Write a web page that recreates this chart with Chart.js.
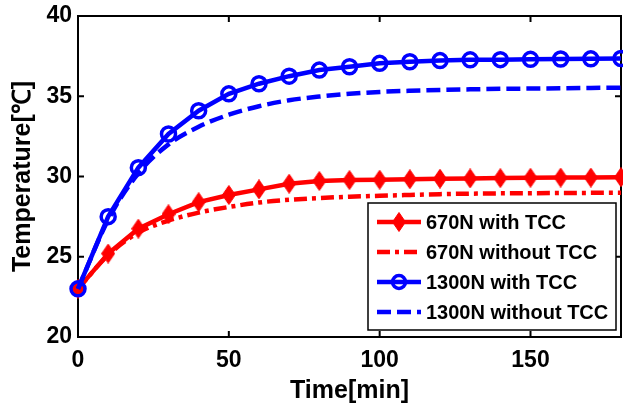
<!DOCTYPE html>
<html>
<head>
<meta charset="utf-8">
<script src="https://cdn.jsdelivr.net/npm/chart.js@4"></script>
<style>
html,body{margin:0;padding:0;background:#fff;}
#c{display:block;}
</style>
</head>
<body>
<canvas id="c" width="623" height="411"></canvas>
<script>
// ---- data ----
const timeMin = [0,10,20,30,40,50,60,70,80,90,100,110,120,130,140,150,160,170,180];
const t670With    = [23.0,25.2,26.75,27.65,28.4,28.85,29.2,29.55,29.72,29.78,29.8,29.83,29.86,29.88,29.9,29.92,29.93,29.93,29.95];
const t670Without = [23.0,25.1,26.5,27.25,27.75,28.1,28.38,28.55,28.66,28.74,28.8,28.85,28.9,28.93,28.95,28.96,28.97,28.98,28.99];
const t1300With   = [23.0,27.5,30.55,32.65,34.1,35.15,35.78,36.25,36.63,36.84,37.05,37.15,37.22,37.27,37.28,37.3,37.32,37.33,37.35];
const t1300Without= [23.0,27.3,30.2,32.0,33.1,33.85,34.38,34.75,34.98,35.15,35.27,35.34,35.39,35.43,35.46,35.48,35.5,35.52,35.53];
const seriesLabels = ['670N with TCC','670N without TCC','1300N with TCC','1300N without TCC'];
const xTicks = [0,50,100,150];
const yTicks = [20,25,30,35,40];
const xTitle = 'Time[min]';
const yTitle = 'Temperature[℃]';

const FONT = '"Liberation Sans", Arial, Helvetica, sans-serif';
const RED = '#ff0000';
const BLUE = '#0000ff';

// diamond marker image
const diamond = document.createElement('canvas');
diamond.width = 14; diamond.height = 20;
(function(){
  const g = diamond.getContext('2d');
  g.fillStyle = RED; g.strokeStyle = RED; g.lineWidth = 1;
  g.beginPath();
  g.moveTo(7,0.5); g.lineTo(13.5,10); g.lineTo(7,19.5); g.lineTo(0.5,10); g.closePath();
  g.fill(); g.stroke();
})();

function pts(ys){ return timeMin.map((t,i)=>({x:t,y:ys[i]})); }

const framePlugin = {
  id:'frame',
  beforeDatasetsDraw(chart){
    const {ctx, chartArea:a, scales:{x,y}} = chart;
    ctx.save();
    ctx.strokeStyle = '#000'; ctx.lineWidth = 2;
    ctx.strokeRect(a.left, a.top, a.right-a.left, a.bottom-a.top);
    const L = 6;
    ctx.beginPath();
    xTicks.forEach(v=>{ const px = x.getPixelForValue(v);
      ctx.moveTo(px,a.bottom); ctx.lineTo(px,a.bottom-L);
      ctx.moveTo(px,a.top); ctx.lineTo(px,a.top+L); });
    yTicks.forEach(v=>{ const py = y.getPixelForValue(v);
      ctx.moveTo(a.left,py); ctx.lineTo(a.left+L,py);
      ctx.moveTo(a.right,py); ctx.lineTo(a.right-L,py); });
    ctx.stroke();
    ctx.restore();
  },
  afterDatasetsDraw(chart){
    const ctx = chart.ctx;
    const bx=368, by=203, bw=248, bh=127;
    ctx.save();
    ctx.fillStyle='#fff'; ctx.fillRect(bx,by,bw,bh);
    ctx.strokeStyle='#000'; ctx.lineWidth=1.5; ctx.strokeRect(bx,by,bw,bh);
    const rows=[222,252,282,312];
    chart.data.datasets.forEach((ds,i)=>{
      const yy=rows[i];
      ctx.save();
      ctx.strokeStyle=ds.borderColor; ctx.lineWidth=4.5; ctx.lineCap='butt';
      ctx.setLineDash(ds.borderDash||[]);
      ctx.beginPath(); ctx.moveTo(377,yy); ctx.lineTo(421,yy); ctx.stroke();
      ctx.setLineDash([]);
      if(ds.pointRadius>0){
        if(ds.pointStyle===diamond){ ctx.drawImage(diamond,399-7,yy-10); }
        else { ctx.lineWidth=3.5; ctx.beginPath(); ctx.arc(399,yy,6.5,0,Math.PI*2); ctx.stroke(); }
      }
      ctx.restore();
      ctx.fillStyle='#000'; ctx.font='bold 20px '+FONT;
      ctx.textAlign='left'; ctx.textBaseline='middle';
      ctx.fillText(ds.label,426,yy+1);
    });
    ctx.restore();
  }
};

new Chart(document.getElementById('c'),{
  type:'line',
  data:{datasets:[
    {label:seriesLabels[0], data:pts(t670With), borderColor:RED, backgroundColor:RED, borderWidth:4.5,
     pointStyle:diamond, pointRadius:9, pointHoverRadius:9, tension:0, order:4, clip:false},
    {label:seriesLabels[1], data:pts(t670Without), borderColor:RED, backgroundColor:RED, borderWidth:4.5,
     borderDash:[13,5,4,5], pointRadius:0, cubicInterpolationMode:'monotone', order:3, clip:false},
    {label:seriesLabels[2], data:pts(t1300With), borderColor:BLUE, backgroundColor:'rgba(0,0,0,0)', borderWidth:4.5,
     pointStyle:'circle', pointRadius:7, pointBorderWidth:3.5, pointBorderColor:BLUE, pointBackgroundColor:'rgba(0,0,0,0)',
     tension:0, order:2, clip:false},
    {label:seriesLabels[3], data:pts(t1300Without), borderColor:BLUE, backgroundColor:BLUE, borderWidth:4.5,
     borderDash:[14,6], pointRadius:0, cubicInterpolationMode:'monotone', order:1, clip:false}
  ]},
  options:{
    responsive:false, animation:false, devicePixelRatio:1,
    layout:{autoPadding:false, padding:{left:0,right:2,top:16,bottom:0}},
    plugins:{legend:{display:false}, tooltip:{enabled:false}},
    scales:{
      x:{type:'linear', min:0, max:180,
         afterBuildTicks(s){ s.ticks = xTicks.map(v=>({value:v})); },
         afterFit(s){ s.height = 74; s.paddingLeft = 0; s.paddingRight = 0; },
         grid:{display:false, drawTicks:false}, border:{display:false},
         ticks:{color:'#000', font:{family:FONT, size:23, weight:'bold'}, padding:10, maxRotation:0},
         title:{display:true, text:xTitle, color:'#000', font:{family:FONT, size:25, weight:'bold'}, padding:{top:0,bottom:5}}
      },
      y:{type:'linear', min:20, max:40,
         afterBuildTicks(s){ s.ticks = yTicks.map(v=>({value:v})); },
         afterFit(s){ s.width = 78; s.paddingTop = 0; s.paddingBottom = 0; },
         grid:{display:false, drawTicks:false}, border:{display:false},
         ticks:{color:'#000', font:{family:FONT, size:23, weight:'bold'}, padding:6},
         title:{display:true, text:yTitle, color:'#000', font:{family:FONT, size:25, weight:'bold'}, padding:{top:8,bottom:0}}
      }
    }
  },
  plugins:[framePlugin]
});
</script>
</body>
</html>
